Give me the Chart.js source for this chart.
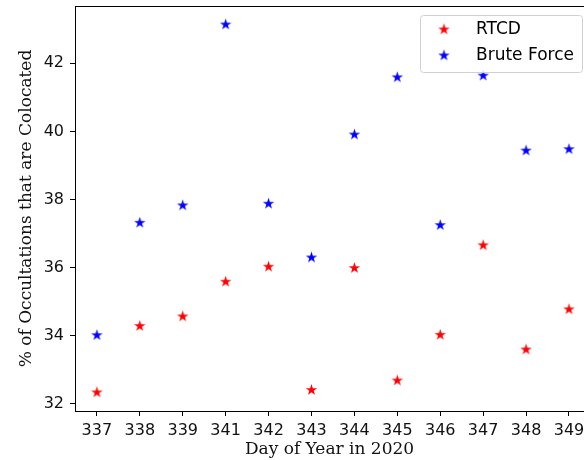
<!DOCTYPE html>
<html>
<head>
<meta charset="utf-8">
<script src="https://cdn.jsdelivr.net/npm/chart.js@4/dist/chart.umd.min.js"></script>
<style>
  html, body { margin: 0; padding: 0; background: #fff; }
  canvas { display: block; }
</style>
</head>
<body>
<canvas id="c" width="584" height="460"></canvas>
<script>
// Hari ke-337..349 (340 tidak ada), persentase okultasi yang berkolokasi
const days = ["337", "338", "339", "341", "342", "343", "344", "345", "346", "347", "348", "349"];
const rtcd = [32.35, 34.30, 34.58, 35.60, 36.04, 32.42, 36.00, 32.70, 34.04, 36.67, 33.61, 34.79];
const bruteForce = [34.03, 37.33, 37.84, 43.15, 37.89, 36.31, 39.92, 41.60, 37.26, 41.65, 39.45, 39.49];
const yTicks = [32, 34, 36, 38, 40, 42];

// marker bintang isi ala matplotlib '*'
function starMarker(color) {
  const size = 13;
  const cv = document.createElement("canvas");
  cv.width = size;
  cv.height = size;
  const ctx = cv.getContext("2d");
  const cx = size / 2, cy = size / 2 + 0.5;
  const outer = 6, inner = outer * 0.382;
  ctx.beginPath();
  for (let i = 0; i < 10; i++) {
    const r = i % 2 === 0 ? outer : inner;
    const a = -Math.PI / 2 + i * Math.PI / 5;
    const px = cx + r * Math.cos(a), py = cy + r * Math.sin(a);
    if (i === 0) ctx.moveTo(px, py); else ctx.lineTo(px, py);
  }
  ctx.closePath();
  ctx.fillStyle = color;
  ctx.fill();
  return cv;
}

const RED_STAR = starMarker("#ff0000");
const BLUE_STAR = starMarker("#0000ff");
const toPoints = (vals) => vals.map((v, i) => ({ x: i, y: v }));

// garis atas (spine) + legend di dalam area plot
const framePlugin = {
  id: "frame",
  afterDraw(chart) {
    const { ctx, chartArea } = chart;
    ctx.save();
    ctx.strokeStyle = "#000";
    ctx.lineWidth = 1;
    ctx.beginPath();
    ctx.moveTo(chartArea.left, chartArea.top + 0.5);
    ctx.lineTo(chartArea.right, chartArea.top + 0.5);
    ctx.stroke();

    // kotak legend
    const bx = 420.5, by = 15.5, bw = 162, bh = 57, r = 3;
    ctx.beginPath();
    ctx.moveTo(bx + r, by);
    ctx.arcTo(bx + bw, by, bx + bw, by + bh, r);
    ctx.arcTo(bx + bw, by + bh, bx, by + bh, r);
    ctx.arcTo(bx, by + bh, bx, by, r);
    ctx.arcTo(bx, by, bx + bw, by, r);
    ctx.closePath();
    ctx.fillStyle = "rgba(255,255,255,0.8)";
    ctx.fill();
    ctx.strokeStyle = "#d0d0d0";
    ctx.stroke();

    ctx.font = "17px 'DejaVu Sans'";
    ctx.fillStyle = "#000";
    ctx.textBaseline = "middle";
    chart.data.datasets.forEach((ds, i) => {
      const y = 29 + i * 26;
      const img = ds.pointStyle;
      ctx.drawImage(img, 444 - img.width / 2, y - img.height / 2);
      ctx.fillText(ds.label, 476, y + 1);
    });
    ctx.restore();
  },
};

new Chart(document.getElementById("c"), {
  type: "scatter",
  data: {
    datasets: [
      { label: "RTCD", data: toPoints(rtcd), pointStyle: RED_STAR, pointRadius: 6 },
      { label: "Brute Force", data: toPoints(bruteForce), pointStyle: BLUE_STAR, pointRadius: 6 },
    ],
  },
  options: {
    responsive: false,
    animation: false,
    layout: { autoPadding: false, padding: { top: 6, left: 0, right: 0, bottom: 0 } },
    plugins: {
      legend: { display: false },
      tooltip: { enabled: false },
    },
    scales: {
      x: {
        type: "linear",
        min: -0.51,
        max: 11.35,
        afterBuildTicks: (s) => { s.ticks = days.map((_, i) => ({ value: i })); },
        afterFit: (s) => { s.height = 49; s.paddingLeft = 0; s.paddingRight = 0; },
        ticks: {
          color: "#111",
          font: { family: "DejaVu Sans", size: 16 },
          padding: 5,
          maxRotation: 0,
          autoSkip: false,
          callback: (v) => days[v],
        },
        grid: { drawOnChartArea: false, drawTicks: true, tickLength: 5, tickColor: "#000" },
        border: { display: true, color: "#000", width: 1 },
        title: {
          display: true,
          text: "Day of Year in 2020",
          color: "#111",
          font: { family: "DejaVu Serif", size: 17 },
          padding: { top: 0, bottom: 0 },
        },
      },
      y: {
        min: 31.79,
        max: 43.68,
        afterBuildTicks: (s) => { s.ticks = yTicks.map((v) => ({ value: v })); },
        afterFit: (s) => { s.width = 75; s.paddingTop = 0; s.paddingBottom = 0; },
        ticks: {
          color: "#111",
          font: { family: "DejaVu Sans", size: 16 },
          padding: 6,
        },
        grid: { drawOnChartArea: false, drawTicks: true, tickLength: 5, tickColor: "#000" },
        border: { display: true, color: "#000", width: 1 },
        title: {
          display: true,
          text: "% of Occultations that are Colocated",
          color: "#111",
          font: { family: "DejaVu Serif", size: 17 },
          padding: { top: 16, bottom: 0 },
        },
      },
    },
  },
  plugins: [framePlugin],
});
</script>
</body>
</html>
